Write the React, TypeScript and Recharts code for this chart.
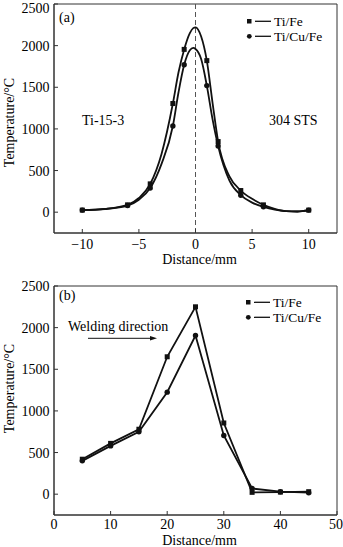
import React from 'react';
import { ComposedChart, Line, Scatter, XAxis, YAxis, ReferenceLine, ReferenceArea } from 'recharts';

const FONT = '"Liberation Serif", "Times New Roman", serif';
const INK = '#111';
const FRAME = '#333';

// ---------- Panel (a) ----------
const seriesNames = ['Ti/Fe', 'Ti/Cu/Fe'];
const aPointX = [-10, -6, -4, -2, -1, 1, 2, 4, 6, 10];
const aTiFe = [25, 88, 340, 1305, 1955, 1820, 848, 260, 88, 25];
const aTiCuFe = [25, 80, 290, 1035, 1770, 1520, 795, 204, 64, 25];
const aCurveX = [-10, -8, -6, -5, -4, -3, -2, -1.5, -1, -0.5, -0.2, 0, 0.5, 1, 1.5, 2, 3, 4, 5, 6, 7, 8, 9, 10];
const aCurveTiFe = [25, 40, 88, 170, 340, 700, 1305, 1680, 1955, 2150, 2210, 2220, 2110, 1820, 1320, 848, 430, 260, 160, 88, 40, 12, 8, 25];
const aCurveTiCuFe = [25, 38, 80, 150, 290, 580, 1035, 1440, 1770, 1945, 1972, 1960, 1840, 1520, 1120, 795, 380, 204, 115, 64, 30, 12, 8, 25];
const aXTicks = [-10, -5, 0, 5, 10];
const yTicks = [0, 500, 1000, 1500, 2000, 2500];

// ---------- Panel (b) ----------
const bX = [5, 10, 15, 20, 25, 30, 35, 40, 45];
const bTiFe = [420, 610, 780, 1650, 2250, 855, 22, 25, 30];
const bTiCuFe = [400, 580, 750, 1225, 1905, 705, 68, 30, 18];
const bXTicks = [0, 10, 20, 30, 40, 50];

const aPtsFe = aPointX.map((x, i) => ({ x, y: aTiFe[i] }));
const aPtsCu = aPointX.map((x, i) => ({ x, y: aTiCuFe[i] }));
const aCurFe = aCurveX.map((x, i) => ({ x, y: aCurveTiFe[i] }));
const aCurCu = aCurveX.map((x, i) => ({ x, y: aCurveTiCuFe[i] }));
const bData = bX.map((x, i) => ({ x, fe: bTiFe[i], cu: bTiCuFe[i] }));

const tickStyle = { fill: '#000', fontSize: 14, fontFamily: FONT };
const fmt = (v: number) => String(v).replace('-', '\u2212');

const Square = (p: any) => {
  const { cx, cy, index } = p;
  if (cx == null || cy == null) return <g key={`s${index}`} />;
  return <rect key={`s${index}`} x={cx - 2.5} y={cy - 2.5} width={5} height={5} fill={INK} />;
};
const Dot = (p: any) => {
  const { cx, cy, index } = p;
  if (cx == null || cy == null) return <g key={`c${index}`} />;
  return <circle key={`c${index}`} cx={cx} cy={cy} r={2.7} fill={INK} />;
};

const YTitle = (p: any) => {
  const vb = p.viewBox || { x: 0, y: 0, width: 0, height: 0 };
  const cx = 9;
  const cy = vb.y + vb.height / 2 + (p.shift || 0);
  return (
    <text x={cx} y={cy} transform={`rotate(-90 ${cx} ${cy})`} textAnchor="middle" dominantBaseline="central"
      fontFamily={FONT} fontSize={14} fill="#000">Temperature/°C</text>
  );
};
const XTitle = (p: any) => {
  const vb = p.viewBox || { x: 0, y: 0, width: 0, height: 0 };
  return (
    <text x={vb.x + vb.width / 2 + (p.dx || 0)} y={vb.y + (p.dy || 0)} textAnchor="middle"
      fontFamily={FONT} fontSize={14} fill="#000">Distance/mm</text>
  );
};

const LegendBox = ({ x, y, rowGap }: { x: number; y: number; rowGap: number }) => (
  <g transform={`translate(${x} ${y})`}>
    {seriesNames.map((n, i) => (
      <g key={n} transform={`translate(0 ${i * rowGap})`}>
        {i === 0 ? <rect x={3} y={6} width={4.5} height={4.5} fill={INK} /> : <circle cx={5.3} cy={8.3} r={2.4} fill={INK} />}
        <line x1={11} x2={27} y1={8.3} y2={8.3} stroke={INK} strokeWidth={1.3} />
        <text x={30} y={13} fontFamily={FONT} fontSize={13.5} fill="#000">{n}</text>
      </g>
    ))}
  </g>
);

export default function App() {
  return (
    <div style={{ position: 'absolute', left: 0, top: 0, width: 343, height: 547, background: '#fff' }}>
      {/* Panel (a) */}
      <div style={{ position: 'absolute', left: 0, top: 0 }}>
        <ComposedChart width={343} height={270} margin={{ top: 4, right: 6, bottom: 0, left: 0 }}>
          <XAxis type="number" dataKey="x" domain={[-12.5, 12.5]} ticks={aXTicks} allowDataOverflow
            tickFormatter={fmt} tick={tickStyle} tickSize={-4} tickMargin={10.5} height={37}
            stroke={FRAME} tickLine={{ stroke: FRAME }} axisLine={{ stroke: FRAME }}
            label={<XTitle dx={4} dy={31} />} />
          <YAxis type="number" domain={[-250, 2500]} ticks={yTicks} allowDataOverflow width={54}
            tick={tickStyle} tickSize={-4} tickMargin={8.5}
            stroke={FRAME} tickLine={{ stroke: FRAME }} axisLine={{ stroke: FRAME }}
            label={<YTitle shift={4} />} />
          <ReferenceArea x1={-12.5} x2={12.5} y1={-250} y2={2500} fill="none" fillOpacity={0} stroke={FRAME} strokeWidth={1} ifOverflow="visible" />
          <ReferenceLine x={0} stroke="#555" strokeDasharray="5 3" strokeWidth={1} />
          <Line data={aCurFe} dataKey="y" type="monotone" stroke={INK} strokeWidth={1.8} dot={false} activeDot={false} isAnimationActive={false} name="Ti/Fe curve" legendType="none" />
          <Line data={aCurCu} dataKey="y" type="monotone" stroke={INK} strokeWidth={1.8} dot={false} activeDot={false} isAnimationActive={false} name="Ti/Cu/Fe curve" legendType="none" />
          <Scatter data={aPtsFe} dataKey="y" shape={Square} isAnimationActive={false} name={seriesNames[0]} />
          <Scatter data={aPtsCu} dataKey="y" shape={Dot} isAnimationActive={false} name={seriesNames[1]} />
          <LegendBox x={244} y={13} rowGap={15} />
          <text x={59} y={22} fontFamily={FONT} fontSize={14} fill="#000">(a)</text>
          <text x={82} y={125} fontFamily={FONT} fontSize={14} fill="#000">Ti-15-3</text>
          <text x={269} y={125} fontFamily={FONT} fontSize={14} fill="#000">304 STS</text>
        </ComposedChart>
      </div>

      {/* Panel (b) */}
      <div style={{ position: 'absolute', left: 0, top: 270 }}>
        <ComposedChart width={343} height={277} data={bData} margin={{ top: 16, right: 6, bottom: 0, left: 0 }}>
          <XAxis type="number" dataKey="x" domain={[0, 50]} ticks={bXTicks} allowDataOverflow
            tick={tickStyle} tickSize={-4} tickMargin={8.5} height={32}
            stroke={FRAME} tickLine={{ stroke: FRAME }} axisLine={{ stroke: FRAME }}
            label={<XTitle dx={4} dy={30} />} />
          <YAxis type="number" domain={[-250, 2500]} ticks={yTicks} allowDataOverflow width={54}
            tick={tickStyle} tickSize={-4} tickMargin={8.5}
            stroke={FRAME} tickLine={{ stroke: FRAME }} axisLine={{ stroke: FRAME }}
            label={<YTitle shift={-12} />} />
          <ReferenceArea x1={0} x2={50} y1={-250} y2={2500} fill="none" fillOpacity={0} stroke={FRAME} strokeWidth={1} ifOverflow="visible" />
          <Line dataKey="fe" type="linear" stroke={INK} strokeWidth={1.8} dot={Square} activeDot={false} isAnimationActive={false} name={seriesNames[0]} />
          <Line dataKey="cu" type="linear" stroke={INK} strokeWidth={1.8} dot={Dot} activeDot={false} isAnimationActive={false} name={seriesNames[1]} />
          <LegendBox x={243} y={24} rowGap={15} />
          <text x={59} y={30} fontFamily={FONT} fontSize={14} fill="#000">(b)</text>
          <text x={68} y={61} fontFamily={FONT} fontSize={14} fill="#000">Welding direction</text>
          <line x1={88} y1={68.3} x2={152} y2={68.3} stroke={INK} strokeWidth={1} />
          <polygon points="157,68.3 150,66 150,70.6" fill={INK} />
        </ComposedChart>
      </div>
    </div>
  );
}
